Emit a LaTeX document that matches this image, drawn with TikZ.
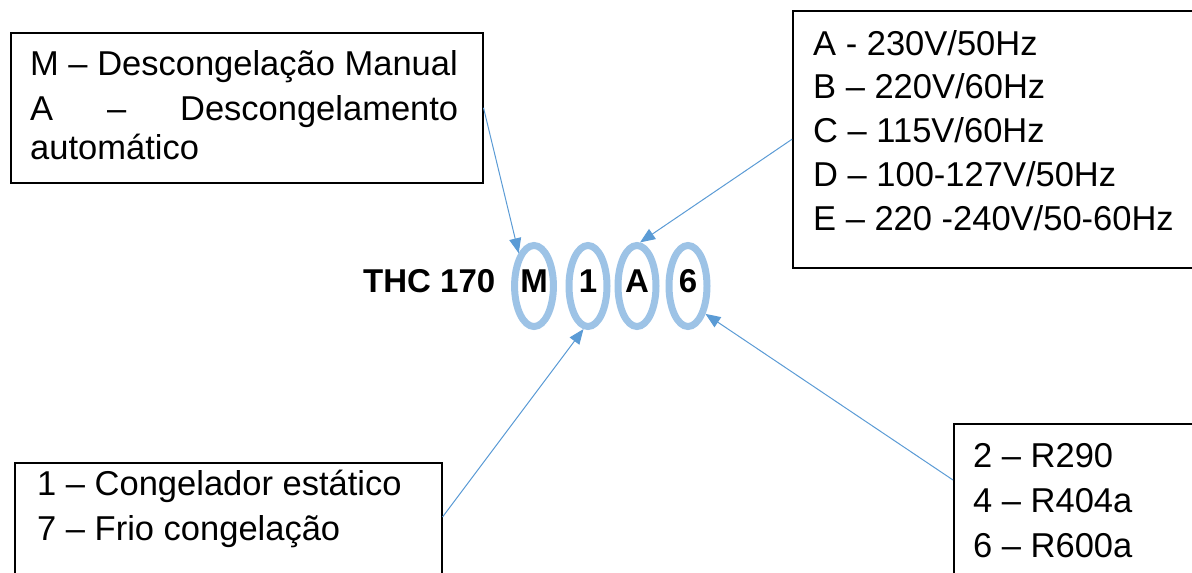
\documentclass[tikz,border=0pt]{standalone}
\usepackage{fontspec}
\setmainfont{Liberation Sans}
\usetikzlibrary{shapes,arrows.meta}
\definecolor{ringblue}{HTML}{9DC3E6}
\definecolor{arrowblue}{HTML}{5B9BD5}
\tikzstyle{legend}=[rectangle, draw, line width=1.5pt, anchor=north west, inner sep=0pt]
\tikzstyle{legendtext}=[anchor=north west, align=left, inner sep=0pt, font=\fontsize{34.5}{45}\selectfont]
\tikzstyle{ring}=[ellipse, draw=ringblue, line width=7pt, minimum width=38pt, minimum height=81pt, inner sep=0pt, text height=24.7pt, text depth=12pt, font=\fontsize{33}{40}\selectfont\bfseries]
\tikzstyle{pointer}=[arrowblue, line width=1pt, -{Triangle[length=15pt,width=12pt]}]

\begin{document}
\begin{tikzpicture}[x=1pt,y=-1pt]
\useasboundingbox (0,0) rectangle (1192,573);

\node[legend, minimum width=472pt, minimum height=150pt] (mode) at (10,32) {};
\node[legend, minimum width=420pt, minimum height=257pt] (volt) at (792,10) {};
\node[legend, minimum width=427pt, minimum height=150pt] (type) at (14,462) {};
\node[legend, minimum width=260pt, minimum height=180pt] (refr) at (953,423) {};

\node[legendtext, font=\fontsize{34.5}{39.5}\selectfont] (modetext) at ([xshift=20pt,yshift=-15.4pt]mode.north west)
  {\strut M – Descongelação Manual\\[5.5pt]\makebox[428pt][s]{A\hfill–\hfill Descongelamento}\\automático};
\node[legendtext, font=\fontsize{34.5}{43.75}\selectfont] (volttext) at ([xshift=21pt,yshift=-14.4pt]volt.north west)
  {\strut A - 230V/50Hz\\B – 220V/60Hz\\C – 115V/60Hz\\D – 100-127V/50Hz\\E – 220 -240V/50-60Hz};
\node[legendtext] (typetext) at ([xshift=23pt,yshift=-1.5pt]type.north west)
  {\strut 1 – Congelador estático\\7 – Frio congelação};
\node[legendtext] (refrtext) at ([xshift=20pt,yshift=-12.5pt]refr.north west)
  {\strut 2 – R290\\4 – R404a\\6 – R600a};

\node[anchor=base west, inner sep=0pt, font=\fontsize{33}{40}\selectfont\bfseries] (model) at (363,292) {THC 170};
\node[ring] (eM) at (534,286) {M};
\node[ring] (e1) at (588,286) {1};
\node[ring] (eA) at (637,286) {A};
\node[ring] (e6) at (688,286) {6};

\coordinate (typeout) at ([yshift=-55pt]type.north east);
\coordinate (refrout) at ([yshift=-57pt]refr.north west);

\draw[pointer] (mode.east) -- (eM.115);
\draw[pointer] (volt.west) -- (eA.86);
\draw[pointer] (typeout) -- (e1.264);
\draw[pointer] (refrout) -- (e6.-58);

\end{tikzpicture}
\end{document}
